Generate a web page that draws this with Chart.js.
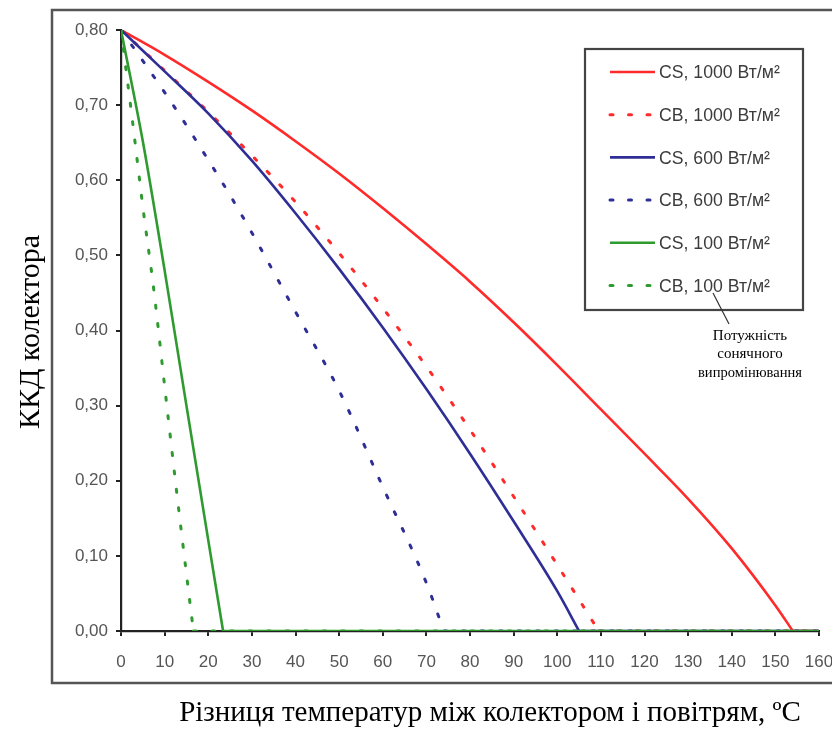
<!DOCTYPE html>
<html><head><meta charset="utf-8">
<script src="https://cdn.jsdelivr.net/npm/chart.js@4/dist/chart.umd.min.js"></script>
<style>html,body{margin:0;padding:0;background:#fff;overflow:hidden}</style>
</head><body>
<canvas id="c" width="832" height="729"></canvas>
<script>
// ---- data ----
const seriesLabels = ['CS, 1000 Вт/м²','CB, 1000 Вт/м²','CS, 600 Вт/м²','CB, 600 Вт/м²','CS, 100 Вт/м²','CB, 100 Вт/м²'];
const tCS1000 = [0,10,20,30,40,50,60,70,80,90,100,110,120,130,140,150,154];
const eCS1000 = [0.80,0.767,0.731,0.693,0.652,0.609,0.563,0.515,0.465,0.411,0.354,0.295,0.236,0.176,0.110,0.034,0];
const tCB1000 = [0,10,20,30,40,50,60,70,80,90,100,109.5];
const eCB1000 = [0.80,0.746,0.691,0.633,0.571,0.503,0.430,0.352,0.268,0.179,0.088,0];
const tCS600 = [0,10,20,30,40,50,60,70,80,90,100,105];
const eCS600 = [0.80,0.745,0.689,0.626,0.556,0.482,0.404,0.322,0.236,0.146,0.053,0];
const tCB600 = [0,5,10,15,20,25,30,40,50,60,70,74];
const eCB600 = [0.80,0.759,0.717,0.673,0.627,0.580,0.530,0.425,0.320,0.192,0.064,0];
const tCS100 = [0,5,10,15,20,23.4];
const eCS100 = [0.80,0.652,0.480,0.300,0.121,0];
const tCB100 = [0,2.5,5,7.5,10,12.5,15,16.6];
const eCB100 = [0.80,0.685,0.565,0.455,0.326,0.198,0.076,0];
// zero efficiency beyond each curve's end, up to the axis maximum
const tailEnd = 160;
const yTitle = 'ККД колектора';
const xTitle = 'Різниця температур між колектором і повітрям, ºC';
const noteLines = ['Потужність','сонячного','випромінювання'];

const RED='#ff2a2a', BLUE='#2e2e96', GREEN='#2f9a2f';
const pts = (t,e)=>t.map((x,i)=>({x:x,y:e[i]}));
const tail = (t)=>[{x:t[t.length-1],y:0},{x:tailEnd,y:0}];
function solid(lbl,t,e,c,ord){return {label:lbl,data:pts(t,e),borderColor:c,backgroundColor:c,borderWidth:2.6,pointRadius:0,cubicInterpolationMode:'monotone',order:ord};}
function dotted(lbl,t,e,c,ord){return {label:lbl,data:pts(t,e),borderColor:c,backgroundColor:c,borderWidth:3,borderDash:[3,15.5],borderCapStyle:'round',pointRadius:0,cubicInterpolationMode:'monotone',order:ord};}
function tailDs(base,t,ord){return Object.assign({},base,{label:base.label+' (0)',data:tail(t),order:ord});}

const main = [
  solid(seriesLabels[4],tCS100,eCS100,GREEN,0),
  dotted(seriesLabels[5],tCB100,eCB100,GREEN,1),
  solid(seriesLabels[2],tCS600,eCS600,BLUE,2),
  dotted(seriesLabels[3],tCB600,eCB600,BLUE,3),
  solid(seriesLabels[0],tCS1000,eCS1000,RED,4),
  dotted(seriesLabels[1],tCB1000,eCB1000,RED,5)
];
const tails = [
  tailDs(main[0],tCS100,0.5),
  tailDs(main[1],tCB100,6),
  tailDs(main[2],tCS600,7),
  tailDs(main[3],tCB600,8),
  tailDs(main[4],tCS1000,9),
  tailDs(main[5],tCB1000,10)
];
const datasets = main.concat(tails);
const legendOrder = [4,5,2,3,0,1];

const frame = {
  id:'frame',
  beforeDraw(chart){
    const ctx=chart.ctx;
    ctx.save();
    ctx.fillStyle='#fff'; ctx.fillRect(0,0,chart.width,chart.height);
    ctx.strokeStyle='#555'; ctx.lineWidth=2.5;
    ctx.strokeRect(52,10,820,673);
    ctx.restore();
  },
  afterDraw(chart){
    const ctx=chart.ctx;
    ctx.save();
    ctx.fillStyle='#000';
    ctx.textAlign='center'; ctx.textBaseline='middle';
    ctx.font='30px "Liberation Serif", "Times New Roman", serif';
    ctx.save(); ctx.translate(31,332); ctx.rotate(-Math.PI/2);
    ctx.fillText(yTitle,0,0,200); ctx.restore();
    ctx.font='29px "Liberation Serif", "Times New Roman", serif';
    ctx.fillText(xTitle,490,713,622);
    // legend box
    const bx=585, by=49, bw=218, bh=261;
    ctx.fillStyle='#fff'; ctx.fillRect(bx,by,bw,bh);
    ctx.strokeStyle='#444'; ctx.lineWidth=2.2; ctx.strokeRect(bx,by,bw,bh);
    ctx.font='19px "Liberation Sans", Arial, sans-serif';
    ctx.textAlign='left';
    legendOrder.forEach((di,r)=>{
      const ds=main[di];
      const y=72+r*42.7;
      ctx.save();
      ctx.strokeStyle=ds.borderColor; ctx.lineWidth=ds.borderWidth;
      if(ds.borderDash){ctx.setLineDash(ds.borderDash); ctx.lineCap='round';}
      ctx.beginPath(); ctx.moveTo(610,y); ctx.lineTo(655,y); ctx.stroke();
      ctx.restore();
      ctx.fillStyle='#3c3c3c';
      const w=ctx.measureText(ds.label).width;
      ctx.fillText(ds.label,659,y+1,w*0.93);
    });
    // annotation
    ctx.strokeStyle='#333'; ctx.lineWidth=1.2;
    ctx.beginPath(); ctx.moveTo(713,293); ctx.lineTo(729,324); ctx.stroke();
    ctx.fillStyle='#000';
    ctx.font='15px "Liberation Serif", "Times New Roman", serif';
    ctx.textAlign='center';
    noteLines.forEach((s,i)=>ctx.fillText(s,750,336+i*18.5,104));
    ctx.restore();
  }
};

new Chart(document.getElementById('c'),{
  type:'line',
  data:{datasets:datasets},
  options:{
    responsive:false, animation:false,
    layout:{padding:{left:0,top:30,right:13,bottom:0}},
    plugins:{legend:{display:false},tooltip:{enabled:false}},
    scales:{
      x:{type:'linear',min:0,max:160,
        ticks:{stepSize:10,color:'#555',padding:16,font:{family:'"Liberation Sans", Arial, sans-serif',size:17},maxRotation:0,autoSkip:false},
        grid:{drawOnChartArea:false,drawTicks:true,tickLength:5,color:'#222',lineWidth:2},
        border:{color:'#222',width:2.2},
        afterFit(s){s.height=98; s.paddingRight=0; s.paddingLeft=0;}
      },
      y:{min:0,max:0.8,
        ticks:{stepSize:0.1,color:'#555',padding:8,font:{family:'"Liberation Sans", Arial, sans-serif',size:17},
          callback:v=>v.toFixed(2).replace('.',',')},
        grid:{drawOnChartArea:false,drawTicks:true,tickLength:5,color:'#222',lineWidth:2},
        border:{color:'#222',width:2.2},
        afterFit(s){s.width=121; s.paddingTop=0; s.paddingBottom=0;}
      }
    }
  },
  plugins:[frame]
});
</script>
</body></html>
